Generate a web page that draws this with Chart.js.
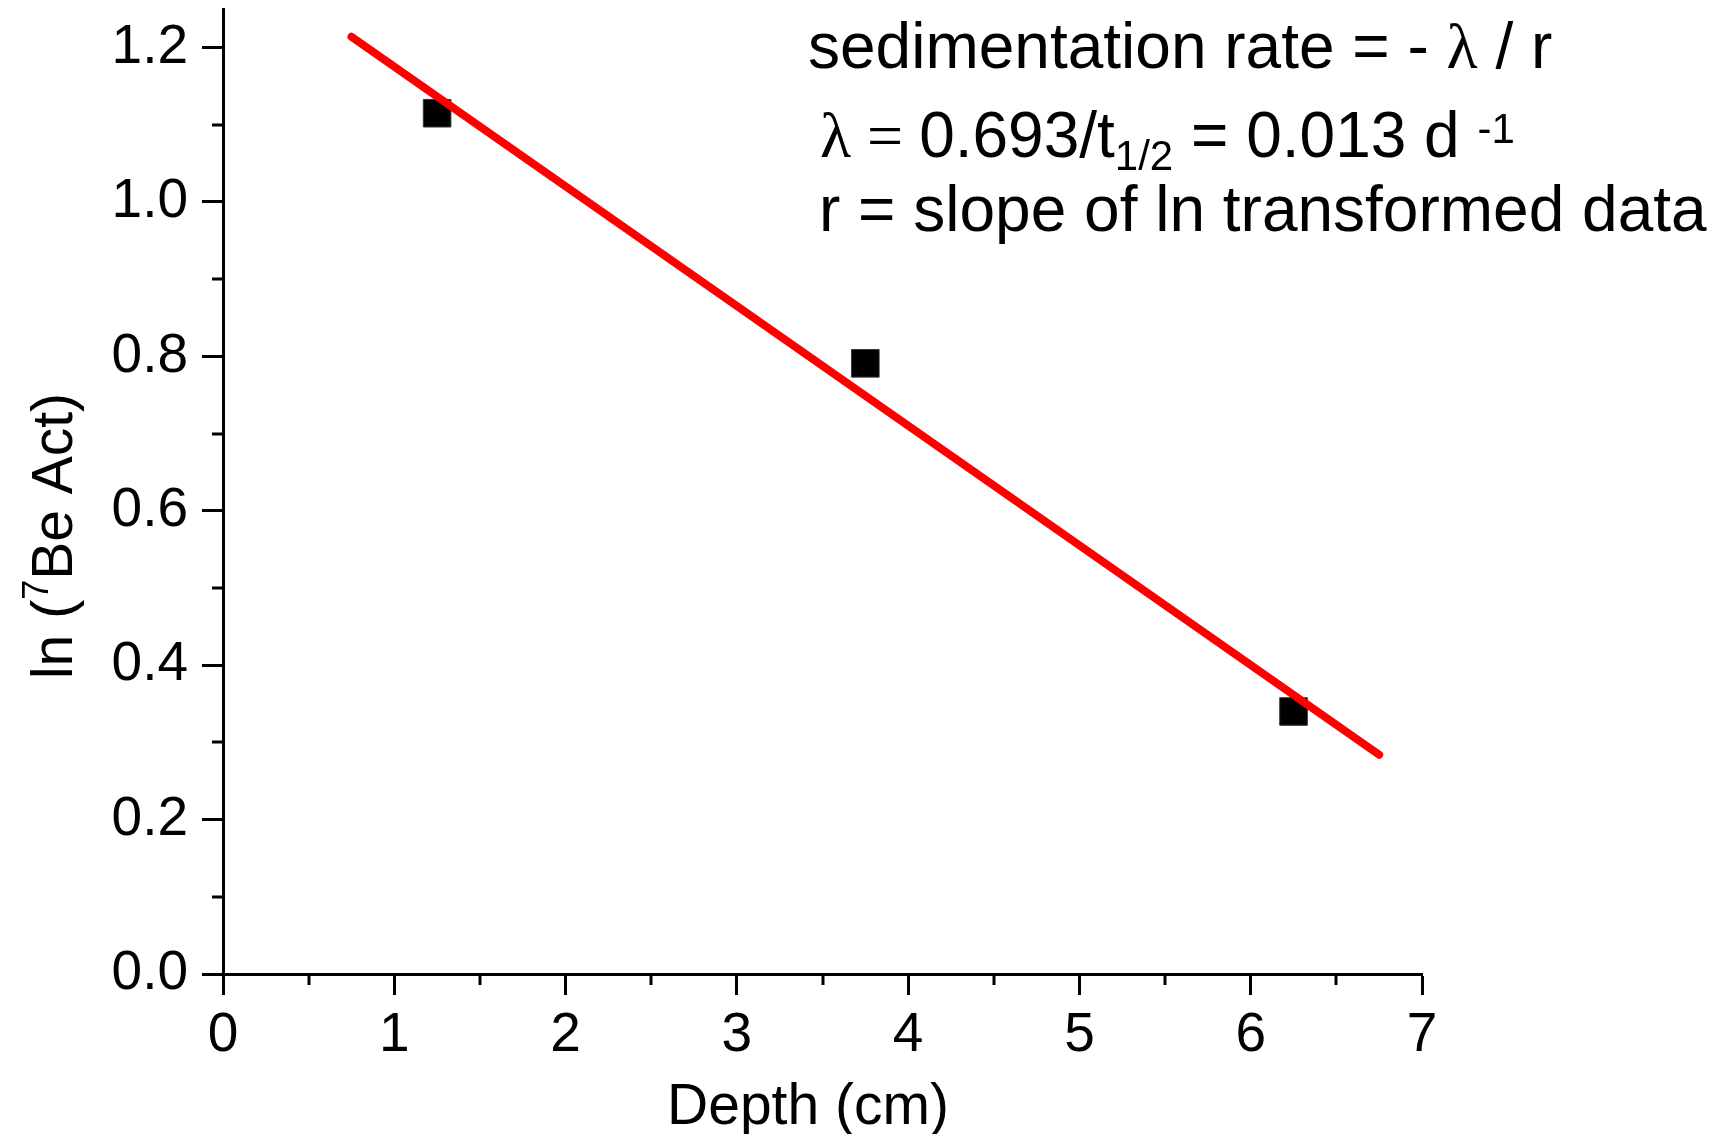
<!DOCTYPE html>
<html>
<head>
<meta charset="utf-8">
<script src="https://cdn.jsdelivr.net/npm/chart.js@4.4.1/dist/chart.umd.min.js"></script>
<style>
  html, body { margin: 0; padding: 0; background: #fff; }
  #wrap { width: 1723px; height: 1134px; }
</style>
</head>
<body>
<div id="wrap"><canvas id="beChart"></canvas></div>
<script>
// Measured points: depth (cm) vs ln(7Be activity)
const depth = [1.25, 3.75, 6.25];
const lnAct = [1.115, 0.791, 0.340];

// Linear fit end points
const fitDepth = [0.75, 6.75];
const fitLn = [1.214, 0.284];

// Axis ranges / ticks
const xMin = 0, xMax = 7, xStep = 1;
const yMin = 0, yMax = 1.25, yStep = 0.2;
const xMinorTicks = [0.5, 1.5, 2.5, 3.5, 4.5, 5.5, 6.5];
const yMinorTicks = [0.1, 0.3, 0.5, 0.7, 0.9, 1.1];

const sans = px => px + 'px "Liberation Sans", Arial, sans-serif';
const serif = px => px + 'px "Liberation Serif", "Times New Roman", serif';

// draw a row of text pieces one after the other (for sub/superscripts)
function drawRuns(ctx, x, y, runs) {
  runs.forEach(r => {
    ctx.font = r.font;
    ctx.fillText(r.text, x, y + (r.dy || 0));
    x += ctx.measureText(r.text).width;
  });
}
function runsWidth(ctx, runs) {
  let w = 0;
  runs.forEach(r => { ctx.font = r.font; w += ctx.measureText(r.text).width; });
  return w;
}

const extrasPlugin = {
  id: 'extras',
  afterDraw: (chart) => {
    const ctx = chart.ctx;
    const xs = chart.scales.x, ys = chart.scales.y;
    ctx.save();

    // minor ticks (outside, shorter)
    ctx.strokeStyle = '#000';
    ctx.lineWidth = 3;
    ctx.beginPath();
    xMinorTicks.forEach(v => {
      const px = Math.round(xs.getPixelForValue(v));
      ctx.moveTo(px, ys.bottom);
      ctx.lineTo(px, ys.bottom + 11);
    });
    yMinorTicks.forEach(v => {
      const py = Math.round(ys.getPixelForValue(v));
      ctx.moveTo(xs.left, py);
      ctx.lineTo(xs.left - 11, py);
    });
    ctx.stroke();

    ctx.fillStyle = '#000';
    ctx.textAlign = 'left';
    ctx.textBaseline = 'alphabetic';

    // x axis title
    ctx.font = sans(57);
    ctx.textAlign = 'center';
    ctx.fillText('Depth (cm)', 808, 1124);
    ctx.textAlign = 'left';

    // y axis title, rotated, with superscript 7
    const yTitle = [
      { text: 'ln (', font: sans(57) },
      { text: '7', font: sans(36), dy: -24 },
      { text: 'Be Act)', font: sans(57) }
    ];
    ctx.save();
    ctx.translate(72, 536);
    ctx.rotate(-Math.PI / 2);
    drawRuns(ctx, -runsWidth(ctx, yTitle) / 2, 0, yTitle);
    ctx.restore();

    // note text
    drawRuns(ctx, 808, 68, [
      { text: 'sedimentation rate = - ', font: sans(64) },
      { text: 'λ', font: serif(64) },
      { text: ' / r', font: sans(64) }
    ]);
    drawRuns(ctx, 820, 157, [
      { text: 'λ', font: serif(64) },
      { text: ' = ', font: serif(64) },
      { text: '0.693/t', font: sans(64) },
      { text: '1/2', font: sans(42), dy: 13 },
      { text: ' = 0.013 d ', font: sans(64) },
      { text: '-1', font: sans(42), dy: -14 }
    ]);
    drawRuns(ctx, 819, 231, [
      { text: 'r = slope of ln transformed data', font: sans(64) }
    ]);

    ctx.restore();
  }
};

const beCtx = document.getElementById('beChart').getContext('2d');
new Chart(beCtx, {
  type: 'scatter',
  data: {
    datasets: [
      {
        // fit line, first so it is drawn on top of the squares
        type: 'line',
        label: 'Linear fit',
        data: fitDepth.map((x, i) => ({ x: x, y: fitLn[i] })),
        borderColor: '#ff0000',
        borderWidth: 8,
        borderCapStyle: 'round',
        pointRadius: 0,
        fill: false,
        clip: false
      },
      {
        label: 'ln (7Be Act)',
        data: depth.map((x, i) => ({ x: x, y: lnAct[i] })),
        pointStyle: 'rect',
        pointRadius: 19.5,
        backgroundColor: '#000',
        borderColor: '#333',
        borderWidth: 1,
        clip: false
      }
    ]
  },
  options: {
    responsive: true,
    maintainAspectRatio: false,
    animation: false,
    layout: {
      autoPadding: false, // don't let point size push the plot area down
      padding: { top: 9, right: 301, left: 0, bottom: 0 }
    },
    plugins: {
      legend: { display: false },
      tooltip: { enabled: false }
    },
    scales: {
      x: {
        type: 'linear',
        min: xMin,
        max: xMax,
        ticks: {
          stepSize: xStep,
          color: '#000',
          padding: 8,
          font: { family: '"Liberation Sans", Arial', size: 55 }
        },
        grid: {
          drawOnChartArea: false,
          tickLength: 21,
          tickWidth: 3,
          tickColor: '#000'
        },
        border: { display: true, color: '#000', width: 3 },
        afterFit: (scale) => {
          scale.height = 160;
          scale.paddingLeft = 0;
          scale.paddingRight = 0;
        }
      },
      y: {
        type: 'linear',
        min: yMin,
        max: yMax,
        ticks: {
          stepSize: yStep,
          includeBounds: false,
          color: '#000',
          padding: 14,
          font: { family: '"Liberation Sans", Arial', size: 55 },
          callback: (v) => v.toFixed(1)
        },
        grid: {
          drawOnChartArea: false,
          tickLength: 21,
          tickWidth: 3,
          tickColor: '#000'
        },
        border: { display: true, color: '#000', width: 3 },
        afterFit: (scale) => {
          scale.width = 223;
          scale.paddingTop = 0;
          scale.paddingBottom = 0;
        }
      }
    }
  },
  plugins: [extrasPlugin]
});
</script>
</body>
</html>
